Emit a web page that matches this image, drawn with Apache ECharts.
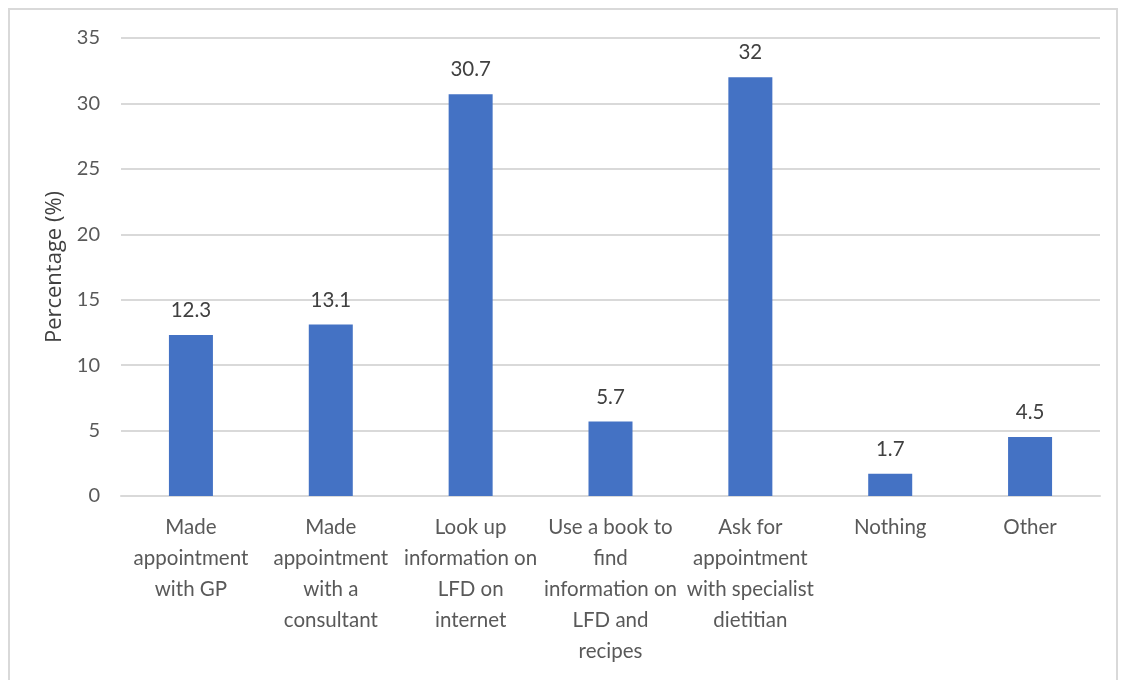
<!DOCTYPE html>
<html>
<head>
<meta charset="utf-8">
<script src="https://cdn.jsdelivr.net/npm/echarts@6/dist/echarts.min.js"></script>
<style>
  html, body { margin: 0; padding: 0; background: #fff; }
  .frame {
    position: absolute; left: 8px; top: 8px; width: 1110px; height: 700px;
    border: 2px solid #d9d9d9; box-sizing: border-box;
  }
  #chart { position: absolute; left: 0; top: 0; width: 1123px; height: 680px; }
</style>
</head>
<body>
<div class="frame"></div>
<div id="chart"></div>
<script>
// categories and values
var categories = [
  "Made\nappointment\nwith GP",
  "Made\nappointment\nwith a\nconsultant",
  "Look up\ninformation on\nLFD on\ninternet",
  "Use a book to\nfind\ninformation on\nLFD and\nrecipes",
  "Ask for\nappointment\nwith specialist\ndietitian",
  "Nothing",
  "Other"
];
var values = [12.3, 13.1, 30.7, 5.7, 32, 1.7, 4.5];
var yTicks = [0, 5, 10, 15, 20, 25, 30, 35];

var myChart = echarts.init(document.getElementById("chart"));
myChart.setOption({
  animation: false,
  textStyle: { fontFamily: "Lato, 'Open Sans', sans-serif" },
  grid: { left: 121, right: 23, top: 38, bottom: 184 },
  xAxis: {
    type: "category",
    data: categories,
    axisTick: { show: false },
    axisLine: { lineStyle: { color: "#d9d9d9", width: 2 } },
    axisLabel: {
      interval: 0,
      color: "#595959",
      fontSize: 20.5,
      lineHeight: 31,
      margin: 16
    }
  },
  yAxis: {
    type: "value",
    min: yTicks[0],
    max: yTicks[yTicks.length - 1],
    interval: 5,
    name: "Percentage (%)",
    nameLocation: "middle",
    nameGap: 52,
    nameTextStyle: { color: "#404040", fontSize: 22, fontFamily: "'Open Sans', sans-serif" },
    axisLine: { show: false },
    axisTick: { show: false },
    axisLabel: { color: "#595959", fontSize: 20, margin: 21 },
    splitLine: { lineStyle: { color: "#d9d9d9", width: 2 } }
  },
  series: [
    {
      type: "bar",
      data: values,
      barWidth: 44,
      itemStyle: { color: "#4472c4" },
      label: {
        show: true,
        position: "top",
        distance: 14,
        color: "#404040",
        fontSize: 20.5
      }
    }
  ]
});
</script>
</body>
</html>
